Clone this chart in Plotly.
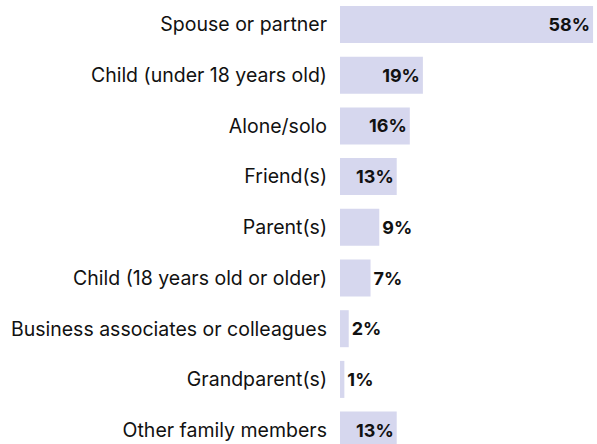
import plotly.graph_objects as go

categories = [
    "Spouse or partner",
    "Child (under 18 years old)",
    "Alone/solo",
    "Friend(s)",
    "Parent(s)",
    "Child (18 years old or older)",
    "Business associates or colleagues",
    "Grandparent(s)",
    "Other family members",
]
values = [58, 19, 16, 13, 9, 7, 2, 1, 13]
labels = [f"{v}%" for v in values]
positions = ["inside" if v >= 13 else "outside" for v in values]

fig = go.Figure(
    go.Bar(
        x=values,
        y=categories,
        orientation="h",
        text=labels,
        textposition=positions,
        insidetextanchor="end",
        constraintext="none",
        cliponaxis=False,
        width=0.73,
        marker=dict(color="#D6D7EE", line=dict(width=0)),
        textfont=dict(family="Inter", size=18, color="#111111", weight="bold"),
        hoverinfo="skip",
    )
)

fig.update_layout(
    width=597,
    height=444,
    margin=dict(l=340, r=0, t=0, b=0),
    paper_bgcolor="white",
    plot_bgcolor="white",
    showlegend=False,
    xaxis=dict(range=[0, 58.9], visible=False, fixedrange=True),
    yaxis=dict(
        type="category",
        range=[8.274, -0.483],
        showgrid=False,
        zeroline=False,
        showline=False,
        ticks="",
        ticklabelstandoff=12,
        automargin=False,
        fixedrange=True,
        tickfont=dict(family="Inter", size=19.5, color="#111111"),
    ),
)

fig.write_html(
    "out.html",
    config={"displayModeBar": False},
    post_script="document.body.style.margin='0';document.body.style.overflow='hidden';",
)
